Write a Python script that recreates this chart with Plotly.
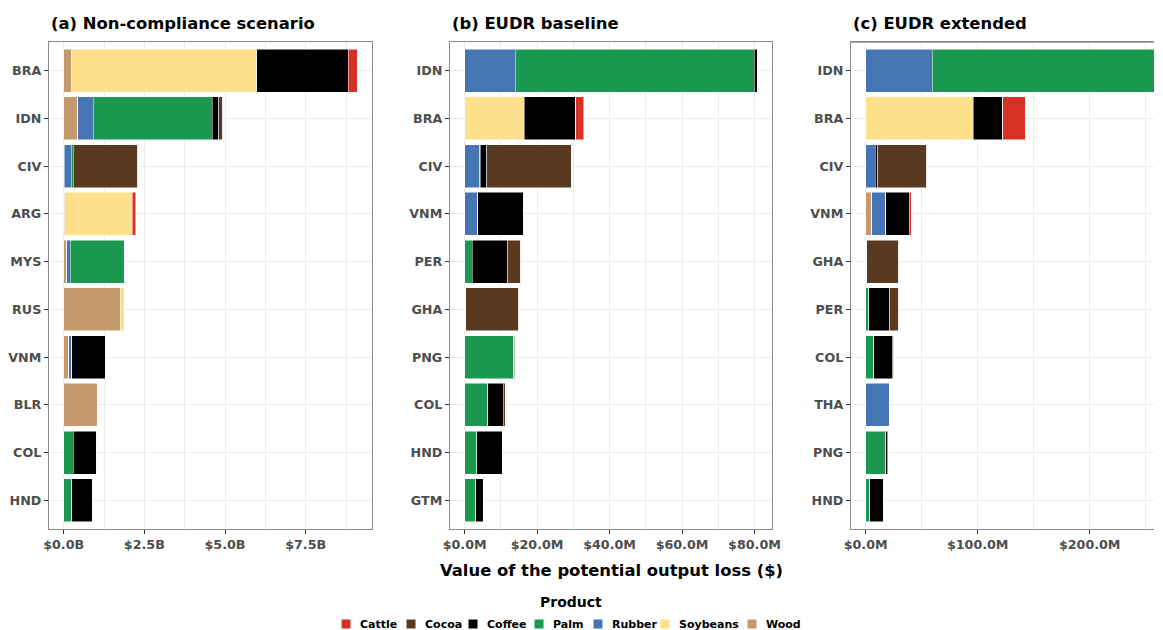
import plotly.graph_objects as go

# product colours (legend order)
products = ["Cattle", "Cocoa", "Coffee", "Palm", "Rubber", "Soybeans", "Wood"]
colors = {"Cattle": "#D73027", "Cocoa": "#5A3921", "Coffee": "#000000", "Palm": "#1B9850",
          "Rubber": "#4575B4", "Soybeans": "#FEDF8C", "Wood": "#C49A6C"}
# stacking order from the axis outwards
stack_order = ["Wood", "Soybeans", "Rubber", "Palm", "Coffee", "Cocoa", "Cattle"]

# (a) Non-compliance scenario, billion $
a_countries = ["BRA", "IDN", "CIV", "ARG", "MYS", "RUS", "VNM", "BLR", "COL", "HND"]
a_wood = [0.23, 0.43, 0.02, 0.04, 0.09, 1.76, 0.16, 1.06, 0.00, 0.00]
a_soybeans = [5.74, 0.00, 0.00, 2.09, 0.00, 0.11, 0.00, 0.00, 0.00, 0.00]
a_rubber = [0.00, 0.49, 0.22, 0.00, 0.12, 0.00, 0.09, 0.00, 0.00, 0.00]
a_palm = [0.01, 3.69, 0.06, 0.00, 1.68, 0.00, 0.00, 0.00, 0.30, 0.25]
a_coffee = [2.84, 0.20, 0.00, 0.00, 0.00, 0.00, 1.05, 0.00, 0.73, 0.65]
a_cocoa = [0.00, 0.12, 1.99, 0.00, 0.00, 0.00, 0.00, 0.00, 0.00, 0.00]
a_cattle = [0.28, 0.00, 0.00, 0.11, 0.00, 0.00, 0.00, 0.00, 0.00, 0.00]

# (b) EUDR baseline, million $
b_countries = ["IDN", "BRA", "CIV", "VNM", "PER", "GHA", "PNG", "COL", "HND", "GTM"]
b_wood = [0.0] * 10
b_soybeans = [0.0, 16.4, 0.0, 0.0, 0.0, 0.0, 0.0, 0.0, 0.0, 0.0]
b_rubber = [14.0, 0.0, 4.2, 3.6, 0.0, 0.27, 0.0, 0.0, 0.0, 0.0]
b_palm = [66.0, 0.0, 0.1, 0.0, 2.1, 0.0, 13.5, 6.4, 3.4, 3.1]
b_coffee = [0.8, 14.3, 1.8, 12.7, 9.8, 0.0, 0.3, 4.3, 7.1, 2.1]
b_cocoa = [0.0, 0.0, 23.3, 0.0, 3.6, 14.6, 0.2, 0.45, 0.0, 0.0]
b_cattle = [0.0, 2.2, 0.0, 0.0, 0.0, 0.0, 0.0, 0.0, 0.0, 0.0]

# (c) EUDR extended, million $
c_countries = ["IDN", "BRA", "CIV", "VNM", "GHA", "PER", "COL", "THA", "PNG", "HND"]
c_wood = [0.0, 0.0, 0.0, 5.4, 0.0, 0.0, 0.0, 0.0, 0.0, 0.0]
c_soybeans = [0.0, 96.1, 0.0, 0.0, 0.0, 0.0, 0.0, 0.0, 0.0, 0.0]
c_rubber = [59.5, 0.0, 8.6, 12.5, 0.9, 0.0, 0.0, 21.7, 0.0, 0.0]
c_palm = [200.0, 0.0, 0.0, 0.0, 0.0, 2.9, 7.1, 0.0, 18.1, 3.8]
c_coffee = [1.8, 26.2, 2.1, 20.8, 0.0, 18.8, 16.4, 0.0, 1.2, 12.5]
c_cocoa = [0.6, 0.0, 43.8, 0.0, 28.6, 7.8, 1.5, 0.0, 0.9, 0.0]
c_cattle = [0.0, 20.2, 0.0, 1.8, 0.0, 0.0, 0.0, 0.0, 0.0, 0.0]

panels = [
    ("x", "y", a_countries, {"Wood": a_wood, "Soybeans": a_soybeans, "Rubber": a_rubber, "Palm": a_palm,
                             "Coffee": a_coffee, "Cocoa": a_cocoa, "Cattle": a_cattle}),
    ("x2", "y2", b_countries, {"Wood": b_wood, "Soybeans": b_soybeans, "Rubber": b_rubber, "Palm": b_palm,
                               "Coffee": b_coffee, "Cocoa": b_cocoa, "Cattle": b_cattle}),
    ("x3", "y3", c_countries, {"Wood": c_wood, "Soybeans": c_soybeans, "Rubber": c_rubber, "Palm": c_palm,
                               "Coffee": c_coffee, "Cocoa": c_cocoa, "Cattle": c_cattle}),
]

W, H = 1163, 630
FONT = "DejaVu Sans"


# in the browser the paper ends up 8px in from the left and 1147px wide
def fx(px):
    return (px - 8) / 1147


def fy(py):
    return 1 - py / H


fig = go.Figure()
totals = []
for xa, ya, countries, vals in panels:
    totals.append(max(sum(vals[p][i] for p in stack_order) for i in range(len(countries))))
    for p in stack_order:
        fig.add_trace(go.Bar(x=vals[p], y=countries, orientation="h", name=p, xaxis=xa, yaxis=ya,
                             marker=dict(color=colors[p], line=dict(color="white", width=0.5)),
                             showlegend=False))

grid = "#EBEBEB"
frame = "#8A8A8A"
tickfont = dict(family=FONT, size=12.7, color="#4D4D4D", weight="bold")


def xaxis(domain, rng, dtick, suffix, anchor, mirror=True):
    return dict(domain=domain, range=rng, anchor=anchor, dtick=dtick, tick0=0, tickformat=".1f",
                tickprefix="$", ticksuffix=suffix, showgrid=True, gridcolor=grid, gridwidth=1,
                minor=dict(dtick=dtick / 2, showgrid=True, gridcolor=grid, gridwidth=0.7),
                zeroline=False, showline=True, linecolor=frame, linewidth=1.3, mirror=mirror,
                ticks="outside", ticklen=4, tickcolor="#333333", tickwidth=1, tickfont=tickfont)


def yaxis(countries, xa, mirror=True):
    return dict(domain=[fy(529), fy(42)], anchor=xa, type="category",
                categoryorder="array", categoryarray=countries[::-1], range=[-0.6, len(countries) - 0.4],
                showgrid=True, gridcolor=grid, gridwidth=1, zeroline=False, showline=True,
                linecolor=frame, linewidth=1.3, mirror=mirror, ticks="outside", ticklen=4,
                tickcolor="#333333", tickwidth=1, tickfont=tickfont)


ta, tb = totals[0], totals[1]
fig.update_layout(
    width=W, height=H, barmode="stack", bargap=0.1,
    plot_bgcolor="white", paper_bgcolor="white",
    margin=dict(l=0, r=0, t=0, b=0),
    font=dict(family=FONT),
    xaxis=xaxis([fx(50), fx(373)], [-0.05 * ta, 1.05 * ta], 2.5, "B", "y"),
    xaxis2=xaxis([fx(451), fx(773)], [-0.05 * tb, 1.05 * tb], 20, "M", "y2"),
    # panel (c) is cut off at the right edge in the original
    xaxis3=xaxis([fx(852), 1.0], [-13.1, 257.4], 100, "M", "y3"),
    yaxis=yaxis(a_countries, "x"), yaxis2=yaxis(b_countries, "x2"), yaxis3=yaxis(c_countries, "x3", mirror=False),
)

# top border for the clipped panel (c)
fig.add_shape(type="line", xref="paper", yref="paper", x0=fx(852), x1=1.0, y0=fy(42), y1=fy(42),
              line=dict(color=frame, width=1.3))

titles = [("(a) Non-compliance scenario", 50), ("(b) EUDR baseline", 451), ("(c) EUDR extended", 852)]
for txt, px in titles:
    fig.add_annotation(text=txt, x=fx(px), y=fy(24), xref="paper", yref="paper",
                       xanchor="left", yanchor="middle", showarrow=False,
                       font=dict(family=FONT, size=16.4, color="black", weight="bold"))

fig.add_annotation(text="Value of the potential output loss ($)", x=fx(612), y=fy(570),
                   xref="paper", yref="paper", xanchor="center", yanchor="middle", showarrow=False,
                   font=dict(family=FONT, size=16.4, color="black", weight="bold"))
fig.add_annotation(text="Product", x=fx(572), y=fy(602), xref="paper", yref="paper",
                   xanchor="center", yanchor="middle", showarrow=False,
                   font=dict(family=FONT, size=14, color="black", weight="bold"))

# legend keys
legend_x = [347, 412, 474, 540, 599, 666, 753]
ly = 624
for p, lx in zip(products, legend_x):
    fig.add_shape(type="rect", xref="paper", yref="paper",
                  x0=fx(lx - 4.5), x1=fx(lx + 4.5), y0=fy(ly + 4.5), y1=fy(ly - 4.5),
                  fillcolor=colors[p], line=dict(width=0))
    fig.add_annotation(text=p, x=fx(lx + 12), y=fy(ly), xref="paper", yref="paper",
                       xanchor="left", yanchor="middle", showarrow=False,
                       font=dict(family=FONT, size=11, color="black", weight="bold"))

fig.write_html("out.html", config={"displayModeBar": False, "responsive": False},
               post_script="document.body.style.margin='0px';")
